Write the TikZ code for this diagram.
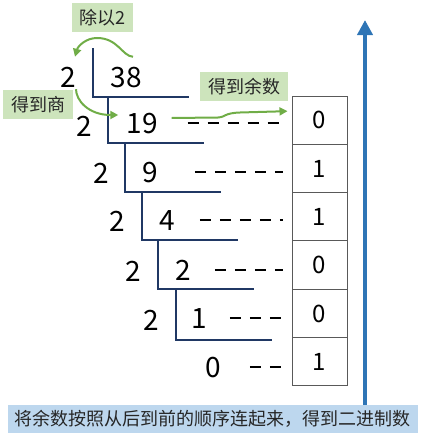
\documentclass[tikz,border=0pt]{standalone}
\usepackage{fontspec}
\setmainfont{Noto Sans CJK SC}
\usepackage{tikz}
\usetikzlibrary{positioning,arrows.meta}
\definecolor{navy}{HTML}{203864}
\definecolor{tagfill}{HTML}{CDE4BC}
\definecolor{hintgreen}{HTML}{70AD47}
\definecolor{axisblue}{HTML}{2E75B6}
\definecolor{notefill}{HTML}{BDD7EE}
\definecolor{boxgray}{HTML}{595959}

\begin{document}
\begin{tikzpicture}[x=1pt,y=-1pt,
    num/.style={font=\fontsize{28}{28}\selectfont,inner sep=0pt,text height=20pt,text depth=0pt},
    tag/.style={fill=tagfill,font=\fontsize{18}{18}\selectfont,inner sep=0pt,minimum height=29pt,text=black!85},
    bar/.style={draw=navy,line width=2.2pt},
    rem/.style={draw=boxgray,line width=1pt,minimum width=55pt,minimum height=48.33pt,inner sep=0pt,
      font=\fontsize{24}{24}\selectfont},
    dashline/.style={line width=2.5pt,dash pattern=on 11pt off 9pt},
    hint/.style={draw=hintgreen,line width=2pt,-{Triangle[length=8pt,width=8pt]}}]
  \useasboundingbox (0,0) rectangle (431,442);
  % divisors and quotients
  \node[num] (d1) at (68,77) {2};  \node[num] (n1) at (126,77) {38};
  \node[num] (d2) at (84,126) {2}; \node[num] (n2) at (142,123) {19};
  \node[num] (d3) at (101,173) {2}; \node[num] (n3) at (150,172) {9};
  \node[num] (d4) at (117,221) {2}; \node[num] (n4) at (167,220) {4};
  \node[num] (d5) at (133,271) {2}; \node[num] (n5) at (183,270) {2};
  \node[num] (d6) at (151,320) {2}; \node[num] (n6) at (199,318) {1};
  \node[num] (n7) at (213,367) {0};
  % short division brackets
  \foreach \x/\ya/\yb in {93/48/97,108/97/143,125/143/192,142/192/240,158/240/289,176/289/340}
    \draw[bar] (\x,\ya) |- (\x+96,\yb);
  % remainders
  \foreach \v [count=\i] in {0,1,1,0,0,1}
    \node[rem] (r\i) at (319.5,{96+48.33*(\i-0.5)}) {\v};
  \foreach \n/\r/\g in {2/1/30,3/2/37,4/3/25,5/4/24,6/5/23,7/6/29}
    \draw[dashline] ([xshift=\g pt]n\n.east) -- ([xshift=-9pt]n\n.east -| r\r.west);
  % hints
  \node[tag,minimum width=61pt] (div) at (102.5,17.5) {除以2};
  \node[tag,minimum width=70pt] (quo) at (38,104.5) {得到商};
  \node[tag,minimum width=88pt] (rest) at (244,86.5) {得到余数};
  \draw[hint] ([shift={(7,-10)}]n1.north) .. controls (122,56) and (118,38) .. (97,38)
    .. controls (86,38) and (78,46) .. ([shift={(7,-10)}]d1.north);
  \draw[hint] ([shift={(8,2)}]d1.south) .. controls (76,100) and (88,115) .. ([shift={(-8,-8)}]n2.west);
  \draw[hint] ([shift={(14,-5)}]n2.east) -- (218,117.5) .. controls (226,117) and (224,113) .. (240,112.5)
    -- ([shift={(-4,-9)}]r1.west);
  % reading direction
  \node[fill=notefill,minimum width=410pt,minimum height=28pt,inner sep=0pt,
    font=\fontsize{18}{18}\selectfont,text=black!85] (note) at (213,419) {将余数按照从后到前的顺序连起来，得到二进制数};
  \coordinate (top) at (365,20);
  \draw[draw=axisblue,line width=4pt,-{Triangle[length=15pt,width=15pt]}] (note.north -| top) -- (top);
\end{tikzpicture}
\end{document}
